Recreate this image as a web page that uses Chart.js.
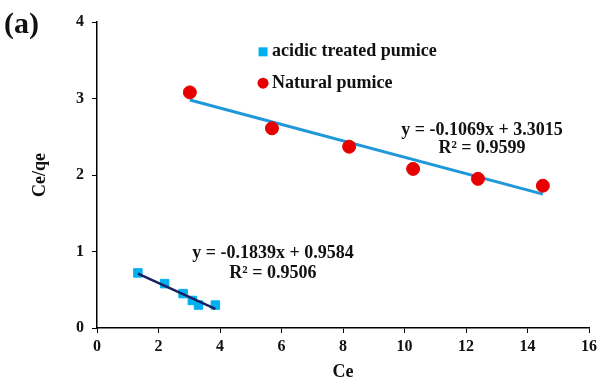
<!DOCTYPE html>
<html>
<head>
<meta charset="utf-8">
<script src="https://cdn.jsdelivr.net/npm/chart.js@4/dist/chart.umd.min.js"></script>
<style>
  html, body { margin: 0; padding: 0; background: #fff; }
  #wrap { width: 608px; height: 387px; position: relative; }
</style>
</head>
<body>
<div id="wrap"><canvas id="isoChart" width="608" height="387"></canvas></div>
<script>
// ===== Langmuir plot, Ce vs Ce/qe =====

const naturalCe = [3.02, 5.69, 8.2, 10.28, 12.39, 14.5];
const naturalCeQe = [3.08, 2.61, 2.37, 2.08, 1.95, 1.86];
const acidCe = [1.33, 2.2, 2.8, 3.1, 3.3, 3.85];
const acidCeQe = [0.72, 0.58, 0.45, 0.36, 0.3, 0.3];

// trend line ends
const naturalFitX = [3.02, 14.5];
const naturalFitY = [2.98, 1.75];
const acidFitX = [1.33, 3.85];
const acidFitY = [0.71, 0.25];

const xTicks = [0, 2, 4, 6, 8, 10, 12, 14, 16];
const yTicks = [0, 1, 2, 3, 4];

const serif = "'Liberation Serif', 'Times New Roman', serif";

function toPoints(xs, ys) {
  return xs.map((x, i) => ({ x: x, y: ys[i] }));
}

// legend + equations drawn at data positions
const notes = {
  id: "notes",
  afterDraw(chart) {
    const ctx = chart.ctx;
    const xs = chart.scales.x, ys = chart.scales.y;
    ctx.save();
    ctx.fillStyle = "#111";
    ctx.font = "bold 18px " + serif;
    ctx.textBaseline = "middle";

    // legend
    let lx = xs.getPixelForValue(5.4);
    let ly1 = ys.getPixelForValue(3.61);
    let ly2 = ys.getPixelForValue(3.2);
    ctx.fillStyle = "#00b0f0";
    ctx.fillRect(lx - 4.5, ly1 - 4.5, 9, 9);
    ctx.fillStyle = "#e60000";
    ctx.beginPath();
    ctx.arc(lx, ly2, 5.5, 0, Math.PI * 2);
    ctx.fill();
    ctx.fillStyle = "#111";
    ctx.textAlign = "left";
    ctx.fillText("acidic treated pumice", lx + 9, ly1);
    ctx.fillText("Natural pumice", lx + 9, ly2);

    // equations
    ctx.textAlign = "center";
    ctx.fillText("y = -0.1069x + 3.3015", xs.getPixelForValue(12.52), ys.getPixelForValue(2.59));
    ctx.fillText("R² = 0.9599", xs.getPixelForValue(12.52), ys.getPixelForValue(2.35));
    ctx.fillText("y = -0.1839x + 0.9584", xs.getPixelForValue(5.72), ys.getPixelForValue(0.98));
    ctx.fillText("R² = 0.9506", xs.getPixelForValue(5.72), ys.getPixelForValue(0.71));

    // panel label
    ctx.textAlign = "left";
    ctx.font = "bold 30px " + serif;
    ctx.fillText("(a)", 4, 25);
    ctx.restore();
  }
};

const axisLine = {
  drawOnChartArea: false,
  drawTicks: true,
  tickLength: 5,
  color: "#000"
};

new Chart(document.getElementById("isoChart"), {
  type: "scatter",
  data: {
    datasets: [
      {
        label: "acidic treated pumice fit",
        data: toPoints(acidFitX, acidFitY),
        showLine: true,
        borderColor: "#1a2160",
        borderWidth: 2.5,
        pointRadius: 0
      },
      {
        label: "Natural pumice",
        data: toPoints(naturalCe, naturalCeQe),
        backgroundColor: "#e60000",
        borderColor: "#e60000",
        pointRadius: 6.5
      },
      {
        label: "acidic treated pumice",
        data: toPoints(acidCe, acidCeQe),
        pointStyle: "rect",
        backgroundColor: "#00b0f0",
        borderColor: "#00b0f0",
        pointRadius: 6
      },
      {
        label: "Natural pumice fit",
        data: toPoints(naturalFitX, naturalFitY),
        showLine: true,
        borderColor: "#1e98d8",
        borderWidth: 3,
        pointRadius: 0
      }
    ]
  },
  options: {
    responsive: false,
    animation: false,
    layout: { padding: { top: 22, right: 19, left: 26, bottom: 0 } },
    plugins: {
      legend: { display: false },
      tooltip: { enabled: false }
    },
    scales: {
      x: {
        type: "linear",
        min: 0,
        max: 16,
        afterBuildTicks: (s) => { s.ticks = xTicks.map(v => ({ value: v })); },
        afterFit: (s) => { s.height = 387 - 328; },
        grid: axisLine,
        border: { color: "#000", width: 1.5 },
        ticks: {
          color: "#111",
          padding: 4,
          font: { family: serif, size: 16, weight: "bold" }
        },
        title: {
          display: true,
          text: "Ce",
          color: "#111",
          padding: { top: 2 },
          font: { family: serif, size: 18, weight: "bold" }
        }
      },
      y: {
        type: "linear",
        min: 0,
        max: 4,
        afterBuildTicks: (s) => { s.ticks = yTicks.map(v => ({ value: v })); },
        afterFit: (s) => { s.width = 97 - 26; },
        grid: axisLine,
        border: { color: "#000", width: 1.5 },
        ticks: {
          color: "#111",
          padding: 8,
          font: { family: serif, size: 16, weight: "bold" }
        },
        title: {
          display: true,
          text: "Ce/qe",
          color: "#111",
          padding: { bottom: 0 },
          font: { family: serif, size: 18, weight: "bold" }
        }
      }
    }
  },
  plugins: [notes]
});
</script>
</body>
</html>
